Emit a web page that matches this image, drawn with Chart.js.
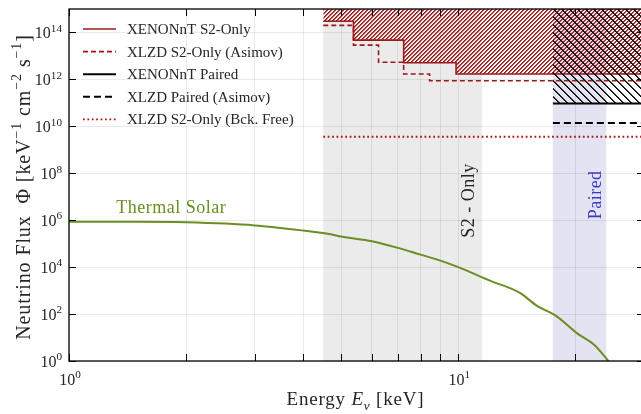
<!DOCTYPE html>
<html>
<head>
    <title>Neutrino Flux</title>
    <script src="https://cdn.jsdelivr.net/npm/chart.js"></script>
    <style>
        html, body { margin: 0; padding: 0; background: #fff; overflow: hidden; }
    </style>
</head>
<body>
    <canvas id="fluxChart" width="646" height="414"></canvas>
    <script>
        // Thermal solar spectrum (keV vs flux)
        const solarEnergy = [1.0, 1.5, 2.0, 3.0, 4.0, 4.7, 5.0, 6.0, 7.0, 8.0, 9.0, 10.0, 11.6, 12.1, 14.4, 15.9, 17.9, 20.2, 22.3, 24.3, 26.0];
        const solarFlux = [8.5e5, 8.5e5, 8.1e5, 6.0e5, 3.6e5, 2.5e5, 2.0e5, 1.26e5, 6.6e4, 3.4e4, 1.9e4, 1.0e4, 3.5e3, 2.6e3, 8.0e2, 2.3e2, 8.0e1, 1.5e1, 5.0, 1.0, 0.25];

        // limits: left bin edges + closing edge, one value per edge (step 'before')
        const s2OnlyEdges = [4.5, 5.38, 7.24, 9.87, 30];
        const s2OnlyLimit = [3.0e14, 4.7e13, 5.1e12, 1.7e12, 1.7e12];
        const s2AsimovEdges = [4.5, 5.38, 6.24, 7.24, 8.44, 30];
        const s2AsimovLimit = [2.0e14, 2.9e13, 5.4e12, 1.7e12, 8.7e11, 8.7e11];
        const pairedEdges = [17.5, 30];
        const pairedLimit = [9.4e10, 9.4e10];
        const pairedAsimovLimit = [1.4e10, 1.4e10];
        const bckFreeEdges = [4.5, 30];
        const bckFreeLimit = [3.6e9, 3.6e9];

        // shaded energy windows
        const s2Band = [4.5, 11.5];
        const pairedBand = [17.5, 24.0];

        // ticks
        const xGridValues = [1, 2, 3, 4, 5, 6, 7, 8, 9, 10, 20];
        const xLabelValues = [1, 10];
        const yTickValues = [1, 1e2, 1e4, 1e6, 1e8, 1e10, 1e12, 1e14];

        // text annotations: [text, x, y, color, rotated]
        const notes = [
            ['Thermal Solar', 1.83, 3.1e6, '#6b8e23', false],
            ['S2 - Only', 10.7, 6.9e6, '#222222', true],
            ['Paired', 22.6, 1.2e7, '#3a3ac0', true]
        ];

        const legendItems = [
            ['XENONnT S2-Only', '#9e1a1a', [], 1.6],
            ['XLZD S2-Only (Asimov)', '#9e1a1a', [5, 3], 1.6],
            ['XENONnT Paired', '#000000', [], 2],
            ['XLZD Paired (Asimov)', '#000000', [7, 4], 2],
            ['XLZD S2-Only (Bck. Free)', '#b01818', [1.8, 2.6], 1.8]
        ];

        const FONT = "'Liberation Serif', 'DejaVu Serif', serif";
        const RED = '#9e1a1a';

        function pts(xs, ys) {
            return xs.map((x, i) => ({ x: x, y: ys[i] }));
        }

        // crisp pixel hatch: stripes 2px wide every `size` px
        function hatch(rgb, size, dir) {
            const c = document.createElement('canvas');
            c.width = size; c.height = size;
            const g = c.getContext('2d');
            const img = g.createImageData(size, size);
            for (let j = 0; j < size; j++) {
                for (let i = 0; i < size; i++) {
                    const k = dir === '/' ? (i + j) % size : (i - j + size) % size;
                    if (k < 2) {
                        const o = (j * size + i) * 4;
                        img.data[o] = rgb[0]; img.data[o + 1] = rgb[1]; img.data[o + 2] = rgb[2];
                        img.data[o + 3] = k === 0 ? 255 : 200;
                    }
                }
            }
            g.putImageData(img, 0, 0);
            return g.createPattern(c, 'repeat');
        }

        // draws text in pieces so superscripts / italics work
        function drawRich(ctx, segs, x, y, size, align, spacing) {
            ctx.letterSpacing = (spacing || 0) + 'px';
            let total = 0;
            segs.forEach(s => {
                const fs = size * (s.scale || 1);
                ctx.font = (s.it ? 'italic ' : '') + fs + 'px ' + FONT;
                s.w = ctx.measureText(s.t).width;
                total += s.w;
            });
            let cx = align === 'right' ? x - total : (align === 'left' ? x : x - total / 2);
            segs.forEach(s => {
                const fs = size * (s.scale || 1);
                ctx.font = (s.it ? 'italic ' : '') + fs + 'px ' + FONT;
                ctx.fillText(s.t, cx, y + (s.dy || 0) * size);
                cx += s.w;
            });
            ctx.letterSpacing = '0px';
        }

        function powLabel(v) {
            const e = Math.round(Math.log10(v));
            return [{ t: '10' }, { t: String(e), scale: 0.7, dy: -0.42 }];
        }

        const bandsPlugin = {
            id: 'bands',
            beforeDraw(chart) {
                const { ctx, chartArea: a, scales: { x } } = chart;
                ctx.save();
                ctx.fillStyle = 'rgb(235,235,235)';
                let l = x.getPixelForValue(s2Band[0]), r = x.getPixelForValue(s2Band[1]);
                ctx.fillRect(l, a.top, r - l, a.bottom - a.top);
                ctx.fillStyle = 'rgb(227,227,241)';
                l = x.getPixelForValue(pairedBand[0]); r = x.getPixelForValue(pairedBand[1]);
                ctx.fillRect(l, a.top, r - l, a.bottom - a.top);
                ctx.restore();
            }
        };

        const decorPlugin = {
            id: 'decor',
            afterDraw(chart) {
                const { ctx, chartArea: a, scales: { x, y } } = chart;
                ctx.save();

                // annotations
                ctx.textBaseline = 'middle';
                notes.forEach(([t, nx, ny, col, rot]) => {
                    const px = x.getPixelForValue(nx), py = y.getPixelForValue(ny);
                    ctx.fillStyle = col;
                    ctx.font = '18px ' + FONT;
                    ctx.letterSpacing = '0.5px';
                    ctx.textAlign = 'center';
                    if (rot) {
                        ctx.save();
                        ctx.translate(px, py);
                        ctx.rotate(-Math.PI / 2);
                        ctx.fillText(t, 0, 0);
                        ctx.restore();
                    } else {
                        ctx.fillText(t, px, py);
                    }
                    ctx.letterSpacing = '0px';
                });

                // legend
                ctx.textAlign = 'left';
                legendItems.forEach(([t, col, dash, lw], i) => {
                    const ly = 29 + i * 22.6;
                    ctx.strokeStyle = col;
                    ctx.lineWidth = lw;
                    ctx.setLineDash(dash);
                    ctx.beginPath();
                    ctx.moveTo(83, ly); ctx.lineTo(116, ly);
                    ctx.stroke();
                    ctx.setLineDash([]);
                    ctx.fillStyle = '#262626';
                    ctx.font = '15px ' + FONT;
                    ctx.fillText(t, 127, ly + 1);
                });

                // frame
                ctx.strokeStyle = '#000';
                ctx.lineWidth = 1.3;
                ctx.strokeRect(a.left, a.top, a.right - a.left, a.bottom - a.top);

                // inward ticks
                ctx.lineWidth = 1;
                ctx.beginPath();
                xGridValues.forEach(v => {
                    const px = Math.round(x.getPixelForValue(v)) + 0.5;
                    ctx.moveTo(px, a.bottom); ctx.lineTo(px, a.bottom - 7);
                    ctx.moveTo(px, a.top); ctx.lineTo(px, a.top + 7);
                });
                yTickValues.forEach(v => {
                    const py = Math.round(y.getPixelForValue(v)) + 0.5;
                    ctx.moveTo(a.left, py); ctx.lineTo(a.left + 7, py);
                    ctx.moveTo(a.right, py); ctx.lineTo(a.right - 7, py);
                });
                ctx.stroke();

                // tick labels
                ctx.fillStyle = '#262626';
                ctx.textBaseline = 'alphabetic';
                yTickValues.forEach(v => {
                    drawRich(ctx, powLabel(v), a.left - 7, y.getPixelForValue(v) + 6, 16, 'right');
                });
                xLabelValues.forEach(v => {
                    drawRich(ctx, powLabel(v), x.getPixelForValue(v) + 1, a.bottom + 24, 16, 'center');
                });

                // axis titles
                drawRich(ctx, [
                    { t: 'Energy ' }, { t: 'E', it: true }, { t: 'ν', it: true, scale: 0.7, dy: 0.25 }, { t: ' [keV]' }
                ], (a.left + a.right) / 2 - 1, 405, 19, 'center', 0.8);

                ctx.save();
                ctx.translate(30, (a.top + a.bottom) / 2 + 2);
                ctx.rotate(-Math.PI / 2);
                drawRich(ctx, [
                    { t: 'Neutrino Flux  Φ [keV' }, { t: '−1', scale: 0.7, dy: -0.45 },
                    { t: ' cm' }, { t: '−2', scale: 0.7, dy: -0.45 },
                    { t: ' s' }, { t: '−1', scale: 0.7, dy: -0.45 }, { t: ']' }
                ], 0, 0, 20, 'center', 0.9);
                ctx.restore();

                ctx.restore();
            }
        };

        const redHatch = hatch([158, 26, 26], 4, '/');
        const blackHatch = hatch([0, 0, 0], 8, '\\');

        new Chart(document.getElementById('fluxChart'), {
            type: 'line',
            data: {
                datasets: [
                    {
                        label: 'XENONnT Paired',
                        data: pts(pairedEdges, pairedLimit),
                        borderColor: '#000', borderWidth: 2,
                        backgroundColor: blackHatch, fill: 'end',
                        pointRadius: 0, order: 1
                    },
                    {
                        label: 'XLZD Paired (Asimov)',
                        data: pts(pairedEdges, pairedAsimovLimit),
                        borderColor: '#000', borderWidth: 2, borderDash: [7, 4],
                        fill: false, pointRadius: 0, order: 2
                    },
                    {
                        label: 'XENONnT S2-Only',
                        data: pts(s2OnlyEdges, s2OnlyLimit),
                        borderColor: RED, borderWidth: 1.6,
                        backgroundColor: redHatch, fill: 'end',
                        stepped: 'before', pointRadius: 0, order: 3
                    },
                    {
                        label: 'XLZD S2-Only (Asimov)',
                        data: pts(s2AsimovEdges, s2AsimovLimit),
                        borderColor: RED, borderWidth: 1.6, borderDash: [5, 3],
                        fill: false, stepped: 'before', pointRadius: 0, order: 4
                    },
                    {
                        label: 'XLZD S2-Only (Bck. Free)',
                        data: pts(bckFreeEdges, bckFreeLimit),
                        borderColor: '#b01818', borderWidth: 1.8, borderDash: [1.8, 2.6],
                        fill: false, pointRadius: 0, order: 5
                    },
                    {
                        label: 'Thermal Solar',
                        data: pts(solarEnergy, solarFlux),
                        borderColor: '#6b8e23', borderWidth: 2,
                        fill: false, pointRadius: 0,
                        cubicInterpolationMode: 'monotone', order: 6
                    }
                ]
            },
            options: {
                responsive: false,
                animation: false,
                devicePixelRatio: 1,
                layout: { padding: { left: 69, top: 9, right: 2, bottom: 53 } },
                plugins: {
                    legend: { display: false },
                    tooltip: { enabled: false }
                },
                scales: {
                    x: {
                        type: 'logarithmic', min: 1, max: 30,
                        afterBuildTicks: s => { s.ticks = xGridValues.map(v => ({ value: v })); },
                        ticks: { display: false },
                        grid: { color: 'rgba(0,0,0,0.08)', drawTicks: false },
                        border: { display: false }
                    },
                    y: {
                        type: 'logarithmic', min: 1, max: 1e15,
                        afterBuildTicks: s => { s.ticks = yTickValues.map(v => ({ value: v })); },
                        ticks: { display: false },
                        grid: { color: 'rgba(0,0,0,0.08)', drawTicks: false },
                        border: { display: false }
                    }
                }
            },
            plugins: [bandsPlugin, decorPlugin]
        });
    </script>
</body>
</html>
